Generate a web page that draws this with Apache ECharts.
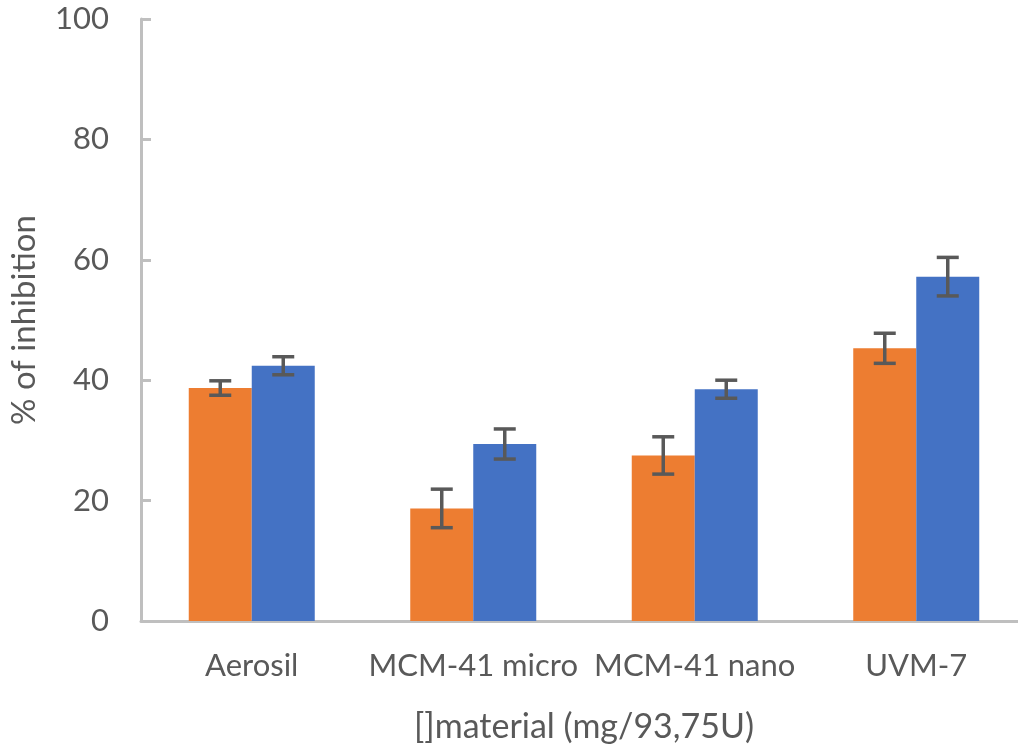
<!DOCTYPE html>
<html>
<head>
<meta charset="utf-8">
<script src="https://cdn.jsdelivr.net/npm/echarts@6/dist/echarts.min.js"></script>
<style>
html,body{margin:0;padding:0;background:#fff;overflow:hidden;}
#chart{width:1040px;height:749px;}
</style>
</head>
<body>
<div id="chart"></div>
<script>
const categories = ['Aerosil', 'MCM-41 micro', 'MCM-41 nano', 'UVM-7'];
const orangeValues = [38.7, 18.7, 27.5, 45.3];
const orangeErrors = [1.2, 3.2, 3.1, 2.5];
const blueValues = [42.4, 29.4, 38.5, 57.2];
const blueErrors = [1.5, 2.5, 1.5, 3.2];
const yTicks = [0, 20, 40, 60, 80, 100];

const BAR_W = 63;
const FONT = 'Lato';
const TXT = '#595959';

function errorSeries(values, errors, side) {
  return {
    type: 'custom',
    z: 10,
    data: values.map((v, i) => [i, v, errors[i]]),
    renderItem: function (params, api) {
      const idx = api.value(0);
      const v = api.value(1);
      const e = api.value(2);
      const top = api.coord([idx, v + e]);
      const bot = api.coord([idx, v - e]);
      const x = top[0] + side * BAR_W / 2;
      const hw = 11;
      const style = { stroke: '#595959', lineWidth: 3.5 };
      return {
        type: 'group',
        children: [
          { type: 'line', shape: { x1: x, y1: top[1], x2: x, y2: bot[1] }, style: style },
          { type: 'line', shape: { x1: x - hw, y1: top[1], x2: x + hw, y2: top[1] }, style: style },
          { type: 'line', shape: { x1: x - hw, y1: bot[1], x2: x + hw, y2: bot[1] }, style: style }
        ]
      };
    }
  };
}

const chart = echarts.init(document.getElementById('chart'));
chart.setOption({
  animation: false,
  backgroundColor: '#fff',
  grid: { left: 141, top: 19, width: 886, height: 602, containLabel: false },
  xAxis: {
    type: 'category',
    data: categories,
    axisLine: { lineStyle: { color: '#bfbfbf', width: 3 } },
    axisTick: { show: false },
    axisLabel: { color: TXT, fontFamily: FONT, fontSize: 31, margin: 29, interval: 0 },
    name: '[]material (mg/93,75U)',
    nameLocation: 'middle',
    nameGap: 89,
    nameTextStyle: { color: TXT, fontFamily: FONT, fontSize: 34 }
  },
  yAxis: {
    type: 'value',
    min: 0,
    max: 100,
    interval: 20,
    axisLine: { show: true, lineStyle: { color: '#bfbfbf', width: 3 } },
    axisTick: { show: true, inside: true, length: 10, lineStyle: { color: '#bfbfbf', width: 3 } },
    splitLine: { show: false },
    axisLabel: {
      color: TXT, fontFamily: FONT, fontSize: 31, margin: 32, padding: [12, 0, 0, 0],
      formatter: function (v) { return yTicks.indexOf(v) >= 0 ? String(v) : ''; }
    },
    name: '% of inhibition',
    nameLocation: 'middle',
    nameGap: 100,
    nameTextStyle: { color: TXT, fontFamily: FONT, fontSize: 33 }
  },
  series: [
    { type: 'bar', data: orangeValues, barWidth: BAR_W, barGap: '0%', itemStyle: { color: '#ED7D31' } },
    { type: 'bar', data: blueValues, barWidth: BAR_W, barGap: '0%', itemStyle: { color: '#4472C4' } },
    errorSeries(orangeValues, orangeErrors, -1),
    errorSeries(blueValues, blueErrors, 1)
  ]
});
</script>
</body>
</html>
